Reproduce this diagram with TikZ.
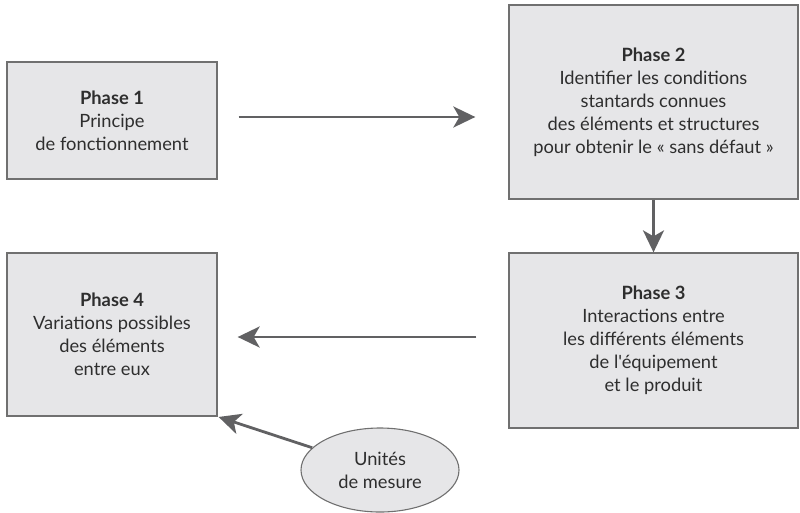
\documentclass[tikz,border=0pt]{standalone}
\usepackage{fontspec}
\setmainfont{Lato}[Ligatures=TeXOff]
\usetikzlibrary{arrows.meta,shapes.geometric,calc}
\definecolor{boxfill}{HTML}{E6E6E8}
\definecolor{boxline}{HTML}{707070}
\definecolor{arrowc}{HTML}{616163}
\definecolor{txt}{HTML}{2E2E2E}
\tikzset{
  phasebox/.style={draw=boxline, line width=1.3pt, fill=boxfill, align=center, text=txt,
    font=\fontsize{18.3}{23}\selectfont, inner sep=0pt},
  flow/.style={draw=arrowc, line width=2.8pt,
    -{Stealth[length=22pt,width=21pt,inset=6pt]}},
  unitell/.style={ellipse, draw=boxline, line width=1.1pt, fill=boxfill, align=center, text=txt,
    font=\fontsize{18.3}{23}\selectfont, inner sep=0pt}
}
\begin{document}
\begin{tikzpicture}[x=1pt,y=-1pt]
\useasboundingbox (0,0) rectangle (800,512);
\node[phasebox, minimum width=210pt, minimum height=117pt] (p1) at (112,120.5)
  {\textbf{Phase 1}\\Principe\\de fonctionnement};
\node[phasebox, minimum width=289pt, minimum height=194pt] (p2) at (653.5,102)
  {\textbf{Phase 2}\\Identifier les conditions\\stantards connues\\des éléments et structures\\pour obtenir le « sans défaut »};
\node[phasebox, minimum width=289pt, minimum height=175pt] (p3) at (653.5,340.5)
  {\textbf{Phase 3}\\Interactions entre\\les différents éléments\\de l'équipement\\et le produit};
\node[phasebox, minimum width=210pt, minimum height=163pt] (p4) at (112,334.5)
  {\textbf{Phase 4}\\Variations possibles\\des éléments\\entre eux};
\node[unitell, minimum width=158pt, minimum height=84pt] (u) at (380,470)
  {Unités\\de mesure};
\coordinate (a1s) at ($(p1.east)+(21,-3.5)$);
\coordinate (a1e) at ($(p2.west |- a1s)+(-33,0)$);
\draw[flow] (a1s) -- (a1e);
\draw[flow] (p2.south) -- (p3.north);
\coordinate (a3s) at ($(p3.west)+(-32,-3.5)$);
\coordinate (a3e) at ($(p4.east |- a3s)+(20,0)$);
\draw[flow] (a3s) -- (a3e);
\draw[flow, shorten >=1pt] (u) -- (p4.south east);
\end{tikzpicture}
\end{document}
